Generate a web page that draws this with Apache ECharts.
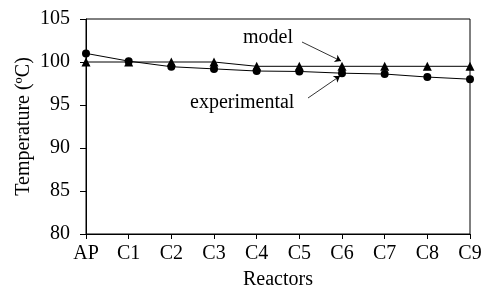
<!DOCTYPE html>
<html>
<head>
<meta charset="utf-8">
<script src="https://cdn.jsdelivr.net/npm/echarts@6/dist/echarts.min.js"></script>
<style>
html,body{margin:0;padding:0;background:#fff;}
#main{width:482px;height:289px;}
</style>
</head>
<body>
<div id="main"></div>
<script>
// reactors on the x axis
var reactors = ['AP', 'C1', 'C2', 'C3', 'C4', 'C5', 'C6', 'C7', 'C8', 'C9'];
// measured temperatures
var experimental = [101.0, 100.1, 99.45, 99.2, 98.95, 98.9, 98.7, 98.6, 98.25, 98.0];
// model prediction
var model = [100.0, 100.0, 100.0, 100.0, 99.5, 99.5, 99.5, 99.5, 99.5, 99.5];
var yTicks = [80, 85, 90, 95, 100, 105];

var font = 'Liberation Serif';
var myChart = echarts.init(document.getElementById('main'));
myChart.setOption({
    backgroundColor: '#fff',
    animation: false,
    grid: {
        left: 86,
        right: 12,
        top: 19,
        bottom: 55,
        outerBoundsMode: 'none',
        containLabel: false,
        show: true,
        borderColor: '#000',
        borderWidth: 1
    },
    xAxis: {
        type: 'category',
        data: reactors,
        boundaryGap: false,
        name: 'Reactors',
        nameLocation: 'middle',
        nameGap: 36,
        nameMoveOverlap: false,
        nameTextStyle: { fontFamily: font, fontSize: 20, color: '#000' },
        axisLine: { lineStyle: { color: '#000', width: 1 } },
        axisTick: { inside: false, length: 5, lineStyle: { color: '#000' } },
        axisLabel: { fontFamily: font, fontSize: 20, color: '#000', margin: 10 },
        splitLine: { show: false }
    },
    yAxis: {
        type: 'value',
        min: yTicks[0],
        max: yTicks[yTicks.length - 1],
        interval: 5,
        name: 'Temperature (ºC)',
        nameLocation: 'middle',
        nameGap: 52,
        nameMoveOverlap: false,
        nameTextStyle: { fontFamily: font, fontSize: 20, color: '#000' },
        axisLine: { show: true, lineStyle: { color: '#000', width: 1 } },
        axisTick: { show: true, inside: false, length: 6, lineStyle: { color: '#000' } },
        axisLabel: { fontFamily: font, fontSize: 20, color: '#000', margin: 16 },
        splitLine: { show: false }
    },
    series: [{
        name: 'model',
        type: 'line',
        data: model,
        symbol: 'triangle',
        symbolSize: 9,
        itemStyle: { color: '#000' },
        lineStyle: { color: '#000', width: 1 },
        markLine: {
            silent: true,
            symbol: ['none', 'arrow'],
            symbolSize: 6,
            label: { show: false },
            lineStyle: { color: '#000', width: 0.8, type: 'solid' },
            data: [
                [{ x: 302, y: 42 }, { x: 341, y: 61 }],
                [{ x: 308, y: 98 }, { x: 340, y: 76 }]
            ]
        }
    }, {
        name: 'experimental',
        type: 'line',
        data: experimental,
        symbol: 'circle',
        symbolSize: 8,
        itemStyle: { color: '#000' },
        lineStyle: { color: '#000', width: 1 }
    }],
    graphic: [{
        type: 'text',
        left: 243,
        top: 28,
        style: { text: 'model', font: '20px "Liberation Serif"', fill: '#000' }
    }, {
        type: 'text',
        left: 190,
        top: 93,
        style: { text: 'experimental', font: '20px "Liberation Serif"', fill: '#000' }
    }]
});
</script>
</body>
</html>
